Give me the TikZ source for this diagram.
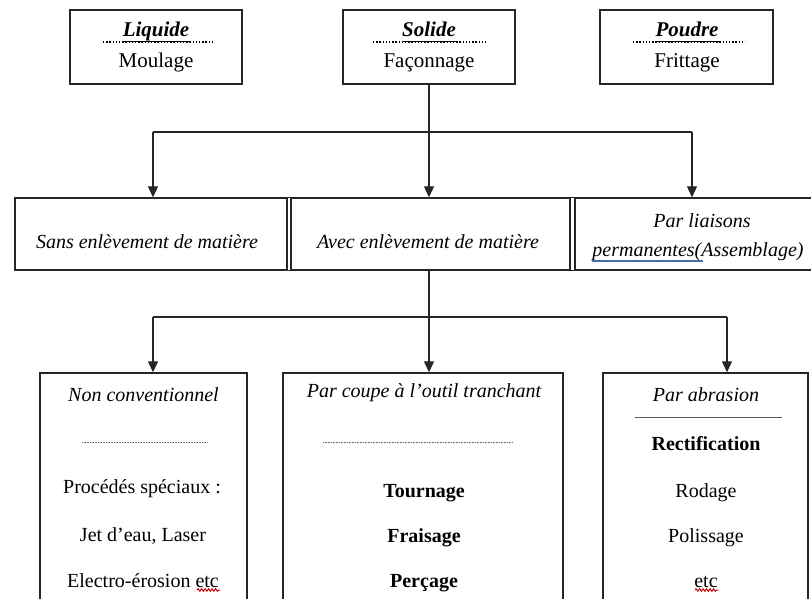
\documentclass[tikz,border=0pt]{standalone}
\usepackage{fontspec}
\setmainfont{Liberation Serif}
\usetikzlibrary{arrows.meta,decorations.pathmorphing}
\begin{document}
\begin{tikzpicture}[x=1pt,y=-1pt,
  frame/.style={draw=black!85, line width=1.4pt, inner sep=0pt},
  conn/.style={draw=black!85, line width=1.1pt},
  arr/.style={conn, -{Triangle[length=11pt,width=10pt]}},
  ttl/.style={font=\fontsize{21}{24}\selectfont\bfseries\itshape, inner sep=0pt, anchor=base},
  sub/.style={font=\fontsize{21}{24}\selectfont, inner sep=0pt, anchor=base},
  itl/.style={font=\fontsize{20}{24}\selectfont\itshape, inner sep=0pt, anchor=base},
  txt/.style={font=\fontsize{20}{24}\selectfont, inner sep=0pt, anchor=base},
  btxt/.style={font=\fontsize{20}{24}\selectfont\bfseries, inner sep=0pt, anchor=base},
  dots/.style={draw=black, line width=1.3pt, dash pattern=on 1.3pt off 1.9pt},
  fine/.style={draw=black!60, line width=0.8pt, dash pattern=on 0.8pt off 0.8pt},
  wavy/.style={draw=red!80!black, line width=1pt, decorate, decoration={snake, amplitude=1.2pt, segment length=3.5pt}}
]
\useasboundingbox (0,0) rectangle (811,599);
\fill[white] (0,0) rectangle (811,599);
\clip (0,0) rectangle (811,599);

% ---- top boxes
\node[frame, minimum width=172pt, minimum height=74pt] (liq) at (156,47) {};
\node[frame, minimum width=172pt, minimum height=74pt] (sol) at (429,47) {};
\node[frame, minimum width=173pt, minimum height=74pt] (pou) at (686.5,47) {};

\node[ttl] (liqT) at (156,37) {Liquide};
\node[sub] (liqS) at (156,68) {Moulage};
\node[ttl] (solT) at (429,37) {Solide};
\node[sub] (solS) at (429,68) {Façonnage};
\node[ttl] (pouT) at (687,37) {Poudre};
\node[sub] (pouS) at (687,68) {Frittage};

\draw[dots] (103,42) -- (213,42);
\draw[dots] (373,42) -- (487,42);
\draw[dots] (633,42) -- (745,42);
\draw[line width=1pt] ([yshift=-4.5pt]liqT.base west) -- ([yshift=-4.5pt]liqT.base east);
\draw[line width=1pt] ([yshift=-4.5pt]solT.base west) -- ([yshift=-4.5pt]solT.base east);
\draw[line width=1pt] ([yshift=-4.5pt]pouT.base west) -- ([yshift=-4.5pt]pouT.base east);

% ---- middle row
\node[frame, minimum width=272pt, minimum height=72pt] (m1) at (151,234) {};
\node[frame, minimum width=279pt, minimum height=72pt] (m2) at (430.5,234) {};
\node[frame, minimum width=260pt, minimum height=72pt] (m3) at (705,234) {};
\draw[frame] (m1.north east) -- (m2.north west) (m1.south east) -- (m2.south west);
\draw[frame] (m2.north east) -- (m3.north west) (m2.south east) -- (m3.south west);

\node[itl] (m1T) at (147,248) {Sans enlèvement de matière};
\node[itl] (m2T) at (428,248) {Avec enlèvement de matière};
\node[itl] (m3T) at (702,227) {Par liaisons};
\node[itl] (m3S) at (698,256) {permanentes(Assemblage)};
\draw[draw={rgb,255:red,70;green,110;blue,170}, line width=1.3pt] (592,261) -- (703,261);

% ---- bottom row (open boxes running off the page)
\node[frame, minimum width=207pt, minimum height=254pt] (b1) at (143.5,500) {};
\node[frame, minimum width=280pt, minimum height=254pt] (b2) at (423,500) {};
\node[frame, minimum width=205pt, minimum height=254pt] (b3) at (705.5,500) {};

\node[itl] (b1T) at (143.5,401) {Non conventionnel};
\draw[fine] (82,442) -- (208,442);
\node[txt] (b1a) at (142,493) {Procédés spéciaux :};
\node[txt] (b1b) at (143,541) {Jet d’eau, Laser};
\node[txt] (b1c) at (143,587) {Electro-érosion etc};
\draw[wavy] (197,590) -- (220,590);

\node[itl] (b2T) at (424,397) {Par coupe à l’outil tranchant};
\draw[fine] (323,442) -- (513,442);
\node[btxt] (b2a) at (424,497) {Tournage};
\node[btxt] (b2b) at (424,542) {Fraisage};
\node[btxt] (b2c) at (424,587) {Perçage};

\node[itl] (b3T) at (706,401) {Par abrasion};
\draw[draw=black!65, line width=1pt] (635,417) -- (782,417);
\node[btxt] (b3a) at (706,450) {Rectification};
\node[txt] (b3b) at (706,497) {Rodage};
\node[txt] (b3c) at (706,542) {Polissage};
\node[txt] (b3d) at (706,587) {etc};
\draw[wavy] (695,590) -- (718,590);

% ---- connectors
\coordinate (j1) at (153,132);
\coordinate (j2) at (692,132);
\coordinate (c1) at (429,132);
\draw[conn] (j1) -- (j2);
\draw[arr] (j1) -- (j1 |- m1.north);
\draw[arr] (j2) -- (j2 |- m3.north);
\draw[arr] (sol.south) -- (c1 |- m2.north);

\coordinate (k1) at (153,317);
\coordinate (k2) at (727,317);
\coordinate (c2) at (429,317);
\draw[conn] (k1) -- (k2);
\draw[arr] (k1) -- (k1 |- b1.north);
\draw[arr] (k2) -- (k2 |- b3.north);
\draw[arr] (c2 |- m2.south) -- (c2 |- b2.north);
\end{tikzpicture}
\end{document}
